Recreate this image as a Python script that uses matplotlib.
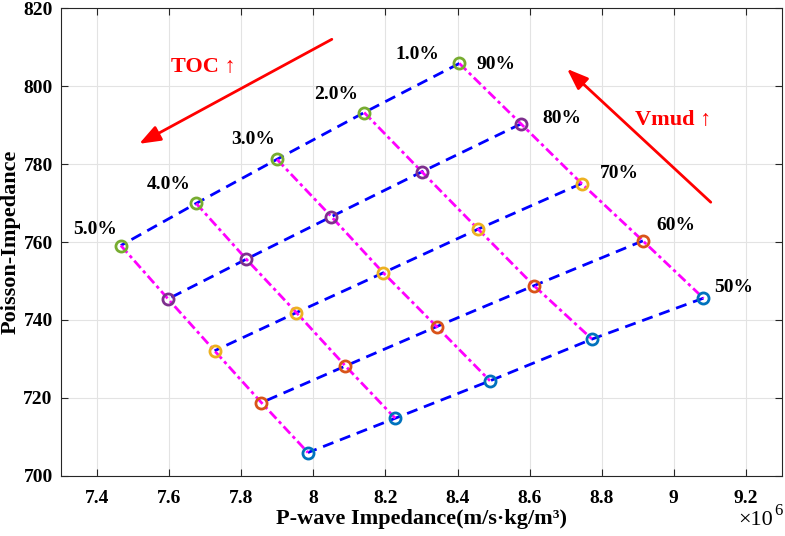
import matplotlib.pyplot as plt
import numpy as np
from matplotlib.patches import FancyArrowPatch

plt.rcParams['font.family'] = ['Liberation Serif', 'DejaVu Serif']
plt.rcParams['font.weight'] = 'bold'

toc = ['1.0%', '2.0%', '3.0%', '4.0%', '5.0%']
vmud = ['90%', '80%', '70%', '60%', '50%']

# P-wave impedance (x1e6), rows = Vmud 90..50, columns = TOC 1..5
p_imp = np.array([
    [8.405, 8.141, 7.899, 7.675, 7.466],
    [8.576, 8.301, 8.050, 7.814, 7.597],
    [8.744, 8.457, 8.194, 7.953, 7.726],
    [8.914, 8.612, 8.342, 8.089, 7.856],
    [9.082, 8.773, 8.490, 8.227, 7.985],
]) * 1e6

poisson = np.array([
    [805.8, 793.2, 781.2, 769.9, 759.1],
    [790.3, 778.0, 766.5, 755.6, 745.4],
    [775.0, 763.3, 752.1, 741.9, 732.1],
    [760.3, 748.8, 738.3, 728.2, 718.8],
    [745.6, 735.1, 724.4, 714.8, 706.0],
])

marker_colors = ['#77AC30', '#7E2F8E', '#EDB120', '#D95319', '#0072BD']

# label offsets (pixels) from the end points
toc_off = [(-42, 9), (-28, 18), (-24, 20), (-27, 19), (-26, 16)]
vmud_off = [(37, -1), (41, 5), (38, 10), (33, 15), (30, 11)]

fig = plt.figure(figsize=(7.85, 5.36), dpi=100)
ax = fig.add_axes([0.0777, 0.112, 0.9185, 0.873])

# constant Vmud lines
for i in range(5):
    ax.plot(p_imp[i], poisson[i], color='#0000ff', lw=2, ls=(0, (4, 2.5)), zorder=2)
# constant TOC lines
for j in range(5):
    ax.plot(p_imp[:, j], poisson[:, j], color='#ff00ff', lw=2,
            ls=(0, (3.5, 1.3, 1.2, 1.3)), zorder=3)
for i in range(5):
    ax.plot(p_imp[i], poisson[i], 'o', ms=8, mfc='none', mec=marker_colors[i],
            mew=2, ls='none', zorder=4)

for j in range(5):
    ax.annotate(toc[j], (p_imp[0, j], poisson[0, j]), xytext=toc_off[j],
                textcoords='offset pixels', ha='center', va='center',
                fontsize=14, fontweight='bold')
for i in range(5):
    ax.annotate(vmud[i], (p_imp[i, 0], poisson[i, 0]), xytext=vmud_off[i],
                textcoords='offset pixels', ha='center', va='center',
                fontsize=14, fontweight='bold')

# arrows in axes fraction
arr1 = FancyArrowPatch((0.379, 0.936), (0.105, 0.707), transform=ax.transAxes,
                       arrowstyle='-|>,head_length=8,head_width=3', color='red',
                       lw=2, mutation_scale=1.6)
arr2 = FancyArrowPatch((0.904, 0.581), (0.699, 0.874), transform=ax.transAxes,
                       arrowstyle='-|>,head_length=8,head_width=3', color='red',
                       lw=2, mutation_scale=1.6)
ax.add_patch(arr1)
ax.add_patch(arr2)
ax.text(0.197, 0.874, 'TOC ↑', transform=ax.transAxes, color='red',
        fontsize=16, fontweight='bold', ha='center', va='center')
ax.text(0.849, 0.761, 'Vmud ↑', transform=ax.transAxes, color='red',
        fontsize=16, fontweight='bold', ha='center', va='center')

ax.set_xlim(7.3e6, 9.3e6)
ax.set_ylim(700, 820)
ax.set_xticks(np.arange(7.4e6, 9.21e6, 0.2e6))
ax.set_xticklabels(['7.4', '7.6', '7.8', '8', '8.2', '8.4', '8.6', '8.8', '9', '9.2'])
ax.set_yticks(np.arange(700, 821, 20))
ax.tick_params(direction='in', top=True, right=True, labelsize=14, length=5,
               color='#262626')
ax.tick_params(axis='x', pad=10)
ax.tick_params(axis='y', pad=6)
for s in ax.spines.values():
    s.set_color('#262626')
    s.set_linewidth(0.8)
ax.grid(True, color='#e3e3e3', lw=0.8)
ax.set_axisbelow(True)
ax.set_xlabel('P-wave Impedance(m/s·kg/m³)', fontsize=16, fontweight='bold')
ax.set_ylabel('Poisson-Impedance', fontsize=16, fontweight='bold')
ax.xaxis.set_label_coords(0.5, -0.07)
ax.yaxis.set_label_coords(-0.07, 0.5)
ax.yaxis.label.set_va('center')
ax.text(0.988, -0.095, '×10', transform=ax.transAxes, fontsize=16,
        ha='right', va='center', fontweight='normal')
ax.text(0.989, -0.075, '6', transform=ax.transAxes, fontsize=12,
        ha='left', va='center', fontweight='normal')

fig.savefig('out.png', dpi=100)
